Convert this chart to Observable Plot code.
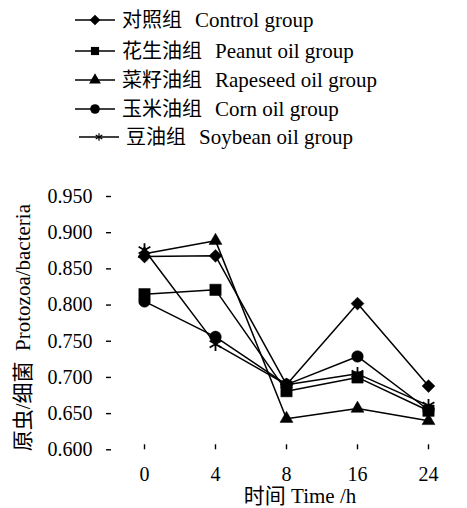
<!DOCTYPE html>
<html>
<head>
<meta charset="utf-8">
<script src="https://cdn.jsdelivr.net/npm/d3@7"></script>
<script src="https://cdn.jsdelivr.net/npm/@observablehq/plot@0.6"></script>
<style>
  html, body { margin: 0; padding: 0; background: #fff; }
  body { width: 467px; height: 508px; position: relative; overflow: hidden;
         font-family: "Liberation Serif", "Noto Sans CJK SC", serif; color: #000; }
  #legend { position: relative; height: 165px; }
  .row { position: absolute; left: 74px; height: 30px; line-height: 30px; font-size: 20px; white-space: nowrap; display: flex; align-items: center; }
  .row svg { display: block; margin-right: 6px; }
  .row .en { margin-left: 13px; font-size: 21px; }
  #chart svg { display: block; }
  #chart svg text { font-family: "Liberation Serif", "Noto Sans CJK SC", serif !important; }
</style>
</head>
<body>
<div id="legend"></div>
<div id="chart"></div>
<script>
const times = ["0", "4", "8", "16", "24"];
const seriesNames = ["Control group", "Peanut oil group", "Rapeseed oil group", "Corn oil group", "Soybean oil group"];
const seriesCn = ["对照组", "花生油组", "菜籽油组", "玉米油组", "豆油组"];
const control  = [0.867, 0.868, 0.690, 0.802, 0.688];
const peanut   = [0.815, 0.821, 0.681, 0.700, 0.654];
const rapeseed = [0.871, 0.889, 0.643, 0.657, 0.640];
const corn     = [0.805, 0.756, 0.690, 0.729, 0.655];
const soybean  = [0.876, 0.746, 0.690, 0.705, 0.661];
const yTicks = [0.600, 0.650, 0.700, 0.750, 0.800, 0.850, 0.900, 0.950];

const FONT = "Liberation Serif, Noto Sans CJK SC, serif";
const symbols = ["diamond2", "square", "triangle", "circle", "asterisk"];
const d3symbols = [d3.symbolDiamond2, d3.symbolSquare, d3.symbolTriangle, d3.symbolCircle, d3.symbolAsterisk];
const radii = [5.8, 6.4, 4.8, 5.8, 6.4];
const allSeries = [control, peanut, rapeseed, corn, soybean];

const data = [];
allSeries.forEach((vals, si) => {
  vals.forEach((v, i) => data.push({series: seriesNames[si], time: times[i], value: v, si}));
});

// Legend
const legend = document.getElementById("legend");
const rowCenters = [20, 51, 80, 109, 137];
const legendSizes = [4.8, 4.6, 4.4, 4.8, 0];
seriesNames.forEach((name, i) => {
  const row = document.createElement("div");
  row.className = "row";
  row.style.top = (rowCenters[i] - 15) + "px";
  if (i === 4) row.style.left = "78px";
  const ns = "http://www.w3.org/2000/svg";
  const s = document.createElementNS(ns, "svg");
  s.setAttribute("width", 42); s.setAttribute("height", 16);
  const ln = document.createElementNS(ns, "line");
  ln.setAttribute("x1", 1); ln.setAttribute("x2", 41); ln.setAttribute("y1", 8); ln.setAttribute("y2", 8);
  ln.setAttribute("stroke", "#000"); ln.setAttribute("stroke-width", 1.5);
  s.appendChild(ln);
  const p = document.createElementNS(ns, "path");
  const sz = i === 4 ? 40 : legendSizes[i] * legendSizes[i] * Math.PI;
  p.setAttribute("d", d3.symbol(d3symbols[i], sz)());
  p.setAttribute("transform", "translate(21,8)");
  if (i === 4) { p.setAttribute("fill", "none"); p.setAttribute("stroke", "#000"); p.setAttribute("stroke-width", 1.2); }
  else p.setAttribute("fill", "#000");
  s.appendChild(p);
  row.appendChild(s);
  const cn = document.createElement("span"); cn.textContent = seriesCn[i];
  const en = document.createElement("span"); en.className = "en"; en.textContent = name;
  row.appendChild(cn); row.appendChild(en);
  legend.appendChild(row);
});

const plot = Plot.plot({
  width: 467,
  height: 343,
  marginLeft: 106,
  marginRight: 2,
  marginTop: 31,
  marginBottom: 58.7,
  style: { fontFamily: FONT, fontSize: "19px", color: "#000", background: "#fff" },
  x: { type: "point", domain: times, padding: 0.5 },
  y: { domain: [0.6, 0.95] },
  r: { type: "identity" },
  marks: [
    Plot.axisY({ ticks: yTicks, tickFormat: d3.format(".3f"), tickSize: -5, tickPadding: 19, line: true, label: null, stroke: "#000", strokeWidth: 1.4, fontSize: 20, fontFamily: FONT }),
    Plot.axisX({ tickSize: -5, tickPadding: 22, line: true, label: null, stroke: "#000", strokeWidth: 1.4, fontSize: 20, fontFamily: FONT }),
    Plot.text(["原虫/细菌  Protozoa/bacteria"], { frameAnchor: "left", textAnchor: "middle", lineAnchor: "middle", rotate: -90, dx: -83, dy: 4.5, fontSize: 21, fontFamily: FONT }),
    Plot.text(["时间 Time /h"], { frameAnchor: "bottom", textAnchor: "middle", lineAnchor: "middle", dx: 14, dy: 46.5, fontSize: 21, fontFamily: FONT }),
    Plot.line(data, { x: "time", y: "value", z: "series", stroke: "#000", strokeWidth: 1.5 }),
    Plot.dot(data, { x: "time", y: "value", symbol: d => symbols[d.si], r: d => radii[d.si],
      fill: d => d.si === 4 ? "none" : "#000", stroke: "#000", strokeWidth: d => d.si === 4 ? 1.8 : 0.5 })
  ]
});
document.getElementById("chart").appendChild(plot);
</script>
</body>
</html>
